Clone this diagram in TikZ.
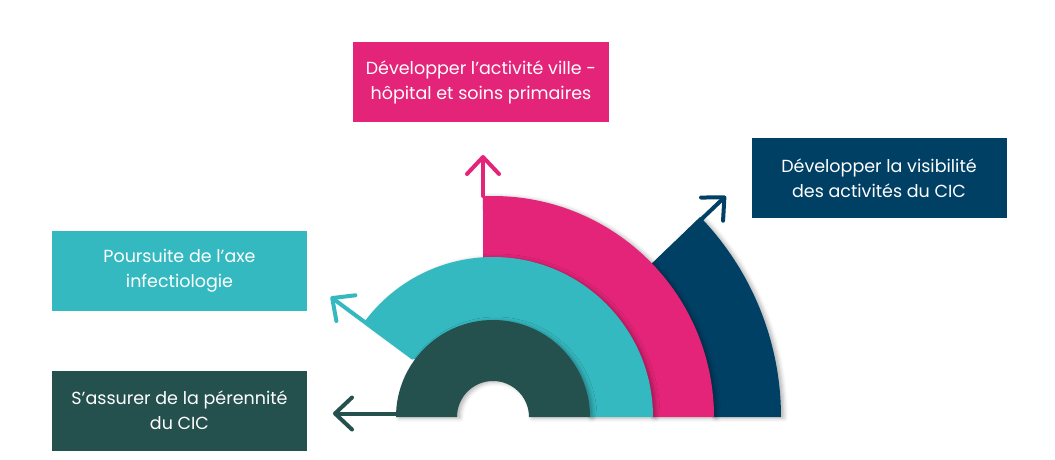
\documentclass[tikz,border=0pt]{standalone}
\usepackage{fontspec}
\setmainfont{Poppins}
\usetikzlibrary{arrows.meta}
\usetikzlibrary{shadows.blur}

\definecolor{cicpink}{RGB}{228,36,120}
\definecolor{cicnavy}{RGB}{0,64,101}
\definecolor{cicteal}{RGB}{53,185,193}
\definecolor{cicgreen}{RGB}{36,80,78}

\begin{document}
\begin{tikzpicture}[x=1pt,y=1pt,
		goalbox/.style={fill=#1, text=white, align=center, minimum width=255pt, minimum height=80pt, inner sep=0pt, font=\fontsize{17.5}{25}\selectfont},
		band/.style={fill=#1, blur shadow={shadow xshift=3pt, shadow yshift=-1pt, shadow blur radius=4pt, shadow opacity=30}},
		push/.style={draw=#1, line width=4pt, line cap=round, -{Straight Barb[length=17pt,width=32pt,round]}}]
		\useasboundingbox (-493,-42) rectangle (562,417);

		\node[goalbox=cicpink] (pinkbox) at (-12,335) {Développer l’activité ville -\\hôpital et soins primaires};
		\node[goalbox=cicnavy] (navybox) at (386,239) {Développer la visibilité\\des activités du CIC};
		\node[goalbox=cicteal] (tealbox) at (-313.5,146.5) {Poursuite de l’axe\\infectiologie};
		\node[goalbox=cicgreen] (greenbox) at (-313.5,6.5) {S’assurer de la pérennité\\du CIC};

		\coordinate (navyfoot) at (43.5:221);
		\coordinate (navytip) at (43.5:321);
		\coordinate (pinkfoot) at (-10,221);
		\coordinate (pinktip) at (-10,262);
		\coordinate (tealfoot) at (143.5:100);
		\coordinate (tealtip) at (143.5:202);
		\coordinate (greenfoot) at (-97,3.5);
		\coordinate (greentip) at (-160,3.5);

		\path[band=cicnavy] (0:219) -- (0:288) arc[start angle=0, end angle=44, radius=288]
		-- (44:219) arc[start angle=44, end angle=0, radius=219] -- cycle;
		\path (navyfoot) edge[push=cicnavy] (navytip);

		\path[band=cicpink] (0:158) -- (0:221) arc[start angle=0, end angle=92.6, radius=221]
		-- (93.6:158) arc[start angle=93.6, end angle=0, radius=158] -- cycle;
		\path (pinkfoot) edge[push=cicpink] (pinktip);

		\path[band=cicteal] (0:95) -- (0:160) arc[start angle=0, end angle=143.5, radius=160]
		-- (143.5:95) arc[start angle=143.5, end angle=0, radius=95] -- cycle;
		\path (tealfoot) edge[push=cicteal] (tealtip);

		\path[band=cicgreen] (0:36) -- (0:97) arc[start angle=0, end angle=180, radius=97]
		-- (180:36) arc[start angle=180, end angle=0, radius=36] -- cycle;
		\path (greenfoot) edge[push=cicgreen] (greentip);
		\end{tikzpicture}
\end{document}
